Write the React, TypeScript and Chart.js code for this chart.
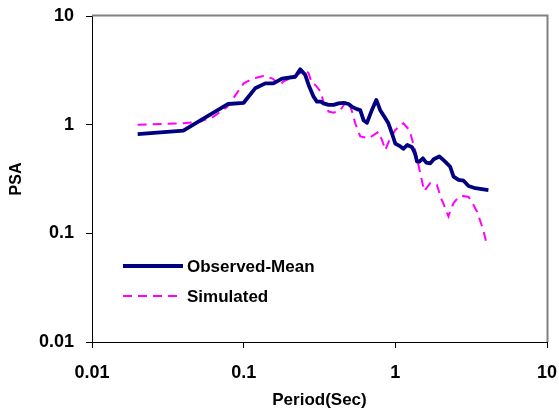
import { useEffect, useRef } from "react";
import { Chart, registerables } from "chart.js";

Chart.register(...registerables);

const observedPeriod = [
  0.02, 0.04, 0.079, 0.1, 0.119, 0.139, 0.157, 0.179, 0.219, 0.236, 0.255, 0.268, 0.289, 0.304,
  0.323, 0.336, 0.363, 0.392, 0.422, 0.456, 0.492, 0.517, 0.558, 0.587, 0.617, 0.65, 0.7, 0.749,
  0.795, 0.857, 0.9, 0.95, 0.973, 1.0, 1.08, 1.13, 1.2, 1.29, 1.35, 1.39, 1.44, 1.52, 1.6, 1.7,
  1.79, 1.95, 2.13, 2.3, 2.42, 2.61, 2.82, 3.04, 3.37, 3.63, 4.11,
];
const observedPSA = [
  0.82, 0.88, 1.55, 1.59, 2.16, 2.4, 2.4, 2.65, 2.76, 3.23, 2.86, 2.32, 1.81, 1.63,
  1.63, 1.57, 1.52, 1.52, 1.57, 1.59, 1.55, 1.46, 1.39, 1.36, 1.1, 1.04, 1.36, 1.69,
  1.36, 1.15, 1.03, 0.83, 0.75, 0.67, 0.63, 0.6, 0.65, 0.62, 0.54, 0.457, 0.457, 0.49, 0.448, 0.44,
  0.48, 0.51, 0.457, 0.41, 0.333, 0.31, 0.305, 0.273, 0.26, 0.256, 0.25,
];

const simulatedPeriod = [
  0.02, 0.04, 0.052, 0.063, 0.078, 0.09, 0.1, 0.116, 0.135, 0.154, 0.174, 0.183, 0.213, 0.255,
  0.268, 0.282, 0.297, 0.323, 0.336, 0.363, 0.392, 0.433, 0.47, 0.492, 0.52, 0.544, 0.587, 0.666,
  0.718, 0.776, 0.817, 0.859, 0.925, 0.998, 1.08, 1.13, 1.24, 1.29, 1.35, 1.46, 1.55, 1.7,
  1.88, 2.0, 2.07, 2.15, 2.24, 2.3, 2.42, 2.6, 2.82, 3.04, 3.27, 3.45, 3.63, 3.82, 4.02,
];
const simulatedPSA = [
  1.0, 1.03, 1.07, 1.18, 1.46, 1.94, 2.4, 2.67, 2.8, 2.67, 2.32, 2.5, 2.76, 3.18,
  2.97, 2.4, 2.32, 2.0, 1.6, 1.32, 1.29, 1.36, 1.6, 1.65, 1.3, 1.03, 0.78, 0.75,
  0.8, 0.86, 0.72, 0.585, 0.75, 0.89, 0.99, 1.03, 0.89, 0.73, 0.585, 0.357, 0.245, 0.29,
  0.28, 0.21, 0.19, 0.164, 0.143, 0.16, 0.19, 0.215, 0.221, 0.216, 0.183, 0.159, 0.13, 0.104, 0.078,
];

const decadeTicks = [0.01, 0.1, 1, 10];
const seriesLabels = ["Observed-Mean", "Simulated"];
const xTitle = "Period(Sec)";
const yTitle = "PSA";

const FONT = "'Liberation Sans', Arial, sans-serif";

const frameBorder = {
  id: "frameBorder",
  afterDatasetsDraw(chart: any) {
    const { ctx, chartArea } = chart;
    ctx.save();
    ctx.strokeStyle = "#808080";
    ctx.lineWidth = 2;
    ctx.beginPath();
    ctx.moveTo(chartArea.left, chartArea.top - 0.5);
    ctx.lineTo(chartArea.right + 0.5, chartArea.top - 0.5);
    ctx.lineTo(chartArea.right + 0.5, chartArea.bottom);
    ctx.stroke();
    ctx.restore();
  },
};

const innerLegend = {
  id: "innerLegend",
  afterDatasetsDraw(chart: any, _args: any, opts: any) {
    const { ctx } = chart;
    ctx.save();
    ctx.font = `bold ${opts.fontSize}px ${FONT}`;
    ctx.textBaseline = "middle";
    ctx.textAlign = "left";
    chart.data.datasets.forEach((ds: any, i: number) => {
      const y = opts.y + i * opts.rowGap;
      ctx.save();
      ctx.strokeStyle = ds.borderColor;
      ctx.lineWidth = ds.borderWidth;
      ctx.setLineDash(ds.borderDash || []);
      ctx.beginPath();
      ctx.moveTo(opts.x, y);
      ctx.lineTo(opts.x + opts.lineLength, y);
      ctx.stroke();
      ctx.restore();
      ctx.fillStyle = "#000";
      ctx.fillText(ds.label, opts.x + opts.lineLength + opts.textGap, y + 1);
    });
    ctx.restore();
  },
};

export default function App() {
  const ref = useRef<HTMLCanvasElement>(null);

  useEffect(() => {
    if (!ref.current) return;
    const fixTicks = (scale: any) => {
      scale.ticks = decadeTicks.map((v) => ({ value: v }));
    };
    const noOverflow = (s: any) => {
      s.paddingTop = 0;
      s.paddingBottom = 0;
      s.paddingLeft = 0;
      s.paddingRight = 0;
    };
    const chart = new Chart(ref.current, {
      type: "line",
      data: {
        datasets: [
          {
            label: seriesLabels[0],
            data: observedPeriod.map((x, i) => ({ x, y: observedPSA[i] })),
            borderColor: "#000080",
            borderWidth: 3.8,
            pointRadius: 0,
            tension: 0,
            borderJoinStyle: "round",
          },
          {
            label: seriesLabels[1],
            data: simulatedPeriod.map((x, i) => ({ x, y: simulatedPSA[i] })),
            borderColor: "#FF00FF",
            borderWidth: 2,
            borderDash: [9, 6],
            pointRadius: 0,
            tension: 0,
          },
        ],
      },
      options: {
        animation: false,
        responsive: false,
        maintainAspectRatio: false,
        layout: { padding: { top: 16, right: 12, left: 0, bottom: 0 } },
        plugins: {
          legend: { display: false },
          tooltip: { enabled: false },
          innerLegend: { x: 123, y: 266, rowGap: 30, lineLength: 60, textGap: 4, fontSize: 17 },
        } as any,
        scales: {
          x: {
            type: "logarithmic",
            min: 0.01,
            max: 10,
            afterBuildTicks: fixTicks,
            afterFit: (s: any) => {
              s.height = 72;
              noOverflow(s);
            },
            grid: { display: true, drawOnChartArea: false, drawTicks: true, tickLength: 6, color: "#000" },
            border: { display: true, color: "#000", width: 1 },
            ticks: {
              color: "#000",
              font: { family: FONT, size: 18, weight: "bold" },
              padding: 14,
              maxRotation: 0,
              autoSkip: false,
              callback: (v: any) => String(v),
            },
            title: {
              display: true,
              text: xTitle,
              color: "#000",
              font: { family: FONT, size: 17, weight: "bold" },
              padding: { top: 0, bottom: 3 },
            },
          },
          y: {
            type: "logarithmic",
            min: 0.01,
            max: 10,
            afterBuildTicks: fixTicks,
            afterFit: (s: any) => {
              s.width = 92;
              noOverflow(s);
            },
            grid: { display: true, drawOnChartArea: false, drawTicks: true, tickLength: 6, color: "#000" },
            border: { display: true, color: "#000", width: 1 },
            ticks: {
              color: "#000",
              font: { family: FONT, size: 18, weight: "bold" },
              padding: 12,
              autoSkip: false,
              callback: (v: any) => String(v),
            },
            title: {
              display: true,
              text: yTitle,
              color: "#000",
              font: { family: FONT, size: 16, weight: "bold" },
              padding: { top: 7, bottom: 0 },
            },
          },
        },
      },
      plugins: [frameBorder, innerLegend],
    });
    return () => chart.destroy();
  }, []);

  return (
    <div style={{ position: "fixed", left: 0, top: 0, width: 559, height: 414, background: "#fff" }}>
      <canvas ref={ref} width={559} height={414} style={{ width: 559, height: 414 }} />
    </div>
  );
}
